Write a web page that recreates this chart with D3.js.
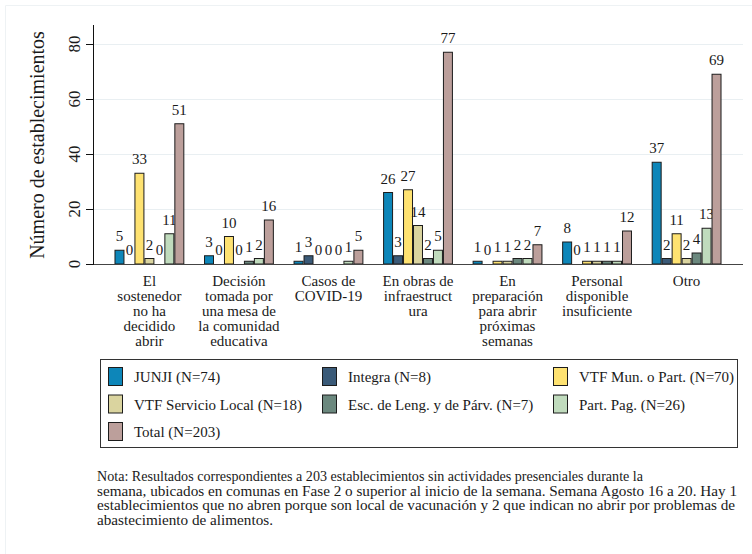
<!DOCTYPE html>
<html>
<head>
<meta charset="utf-8">
<script src="https://cdn.jsdelivr.net/npm/d3@7"></script>
<style>
body{margin:0;background:#fff}
</style>
</head>
<body>
<svg id="canvas" width="752" height="554"></svg>
<script>
// categorias (cada una con sus lineas)
categorias=[
    ["El","sostenedor","no ha","decidido","abrir"],
    ["Decisión","tomada por","una mesa de","la comunidad","educativa"],
    ["Casos de","COVID-19"],
    ["En obras de","infraestruct","ura"],
    ["En","preparación","para abrir","próximas","semanas"],
    ["Personal","disponible","insuficiente"],
    ["Otro"]
]
series=["JUNJI (N=74)","Integra (N=8)","VTF Mun. o Part. (N=70)","VTF Servicio Local (N=18)","Esc. de Leng. y de Párv. (N=7)","Part. Pag. (N=26)","Total (N=203)"]
colores=["#0d86b9","#3a5a78","#fee271","#dad49f","#6b887e","#c0dbbd","#bc9f9b"]

junji=[5,3,1,26,1,8,37]
integra=[0,0,3,3,0,0,2]
vtf_mun=[33,10,0,27,1,1,11]
vtf_local=[2,0,0,14,1,1,2]
esc_leng=[0,1,0,2,2,1,4]
part_pag=[11,2,1,5,2,1,13]
total=[51,16,5,77,7,12,69]
valores=[junji,integra,vtf_mun,vtf_local,esc_leng,part_pag,total]

ticks_y=[0,20,40,60,80]

FUENTE="'Liberation Serif','Times New Roman',Times,'DejaVu Serif',serif"

svg=d3.select("#canvas")
    .attr("font-family",FUENTE)
    .style("font-family",FUENTE)

// marco tenue del grafico
svg.append("path").attr("d","M5.5,560 V5.5 H760").attr("fill","none").attr("stroke","#eef2f4")

x0=d3.scaleBand().domain(d3.range(categorias.length)).range([93,743]).paddingInner(0.22).paddingOuter(0.24)
x1=d3.scaleBand().domain(d3.range(series.length)).range([0,x0.bandwidth()])
y=d3.scaleLinear().domain([0,80]).range([264,44])

// lineas de grilla
svg.selectAll("line.grid").data(ticks_y.slice(1)).enter().append("line")
    .attr("class","grid")
    .attr("x1",94).attr("x2",743)
    .attr("y1",d=>y(d)+0.5).attr("y2",d=>y(d)+0.5)
    .attr("stroke","#e9eff2")

// barras
g=svg.selectAll("g.cat").data(categorias).enter().append("g")
    .attr("class","cat")
    .attr("transform",(d,i)=>"translate("+x0(i)+",0)")

series.forEach(function(s,j){
    g.append("rect")
        .attr("x",(d,i)=>x1(j)+0.5)
        .attr("y",(d,i)=>y(valores[j][i]))
        .attr("width",x1.bandwidth()-1)
        .attr("height",(d,i)=>y(0)-y(valores[j][i]))
        .attr("fill",colores[j])
        .attr("stroke",(d,i)=>valores[j][i]>0?"#1c1c1c":"none")
        .attr("stroke-width",1)
    g.append("text")
        .attr("x",(d,i)=>x1(j)+x1.bandwidth()/2)
        .attr("y",(d,i)=>y(valores[j][i])-9)
        .attr("text-anchor","middle")
        .attr("font-size","15px")
        .attr("fill","#1a1a1a")
        .text((d,i)=>valores[j][i])
})

// etiquetas de categorias
g.each(function(d,i){
    var t=d3.select(this).append("text")
        .attr("text-anchor","middle")
        .attr("font-size","15px")
        .attr("fill","#1a1a1a")
    d.forEach(function(linea,k){
        t.append("tspan").attr("x",x0.bandwidth()/2).attr("y",286+15*k).text(linea)
    })
})

// ejes
svg.append("line").attr("x1",93).attr("x2",743).attr("y1",264.5).attr("y2",264.5).attr("stroke","#444")
svg.append("line").attr("x1",93.5).attr("x2",93.5).attr("y1",25).attr("y2",265).attr("stroke","#111")
svg.selectAll("line.tick").data(ticks_y).enter().append("line")
    .attr("x1",86).attr("x2",93)
    .attr("y1",d=>y(d)+0.5).attr("y2",d=>y(d)+0.5)
    .attr("stroke","#111")
svg.selectAll("text.ytick").data(ticks_y).enter().append("text")
    .attr("class","ytick")
    .attr("transform",d=>"translate(80,"+y(d)+") rotate(-90)")
    .attr("text-anchor","middle")
    .attr("font-size","17px")
    .attr("fill","#1a1a1a")
    .text(d=>d)
svg.append("text")
    .attr("transform","translate(44,145) rotate(-90)")
    .attr("text-anchor","middle")
    .attr("font-size","20px")
    .attr("fill","#1a1a1a")
    .text("Número de establecimientos")

// leyenda
svg.append("rect").attr("x",100.5).attr("y",359.5).attr("width",637).attr("height",88)
    .attr("fill","none").attr("stroke","#333")
col_x=[108,322,553]
series.forEach(function(s,j){
    var cx=col_x[j%3], ry=367+27.5*Math.floor(j/3)
    svg.append("rect").attr("x",cx+0.5).attr("y",ry+0.5).attr("width",14).attr("height",18)
        .attr("fill",colores[j]).attr("stroke","#1c1c1c")
    svg.append("text").attr("x",cx+26).attr("y",ry+15).attr("font-size","15px")
        .attr("fill","#1a1a1a").text(s)
})

// nota (ancho de cada linea como en el original)
nota=["Nota: Resultados correspondientes a 203 establecimientos sin actividades presenciales durante la",
"semana, ubicados en comunas en Fase 2 o superior al inicio de la semana. Semana Agosto 16 a 20. Hay 1",
"establecimientos que no abren porque son local de vacunación y 2 que indican no abrir por problemas de",
"abastecimiento de alimentos."]
nota_ancho=[546,640,638,176]
svg.append("text").attr("font-size","14.5px").attr("fill","#1a1a1a")
    .selectAll("tspan").data(nota).enter().append("tspan")
    .attr("x",97).attr("y",(d,i)=>481+14.5*i)
    .attr("textLength",(d,i)=>nota_ancho[i]).attr("lengthAdjust","spacingAndGlyphs")
    .text(d=>d)
</script>
</body>
</html>
